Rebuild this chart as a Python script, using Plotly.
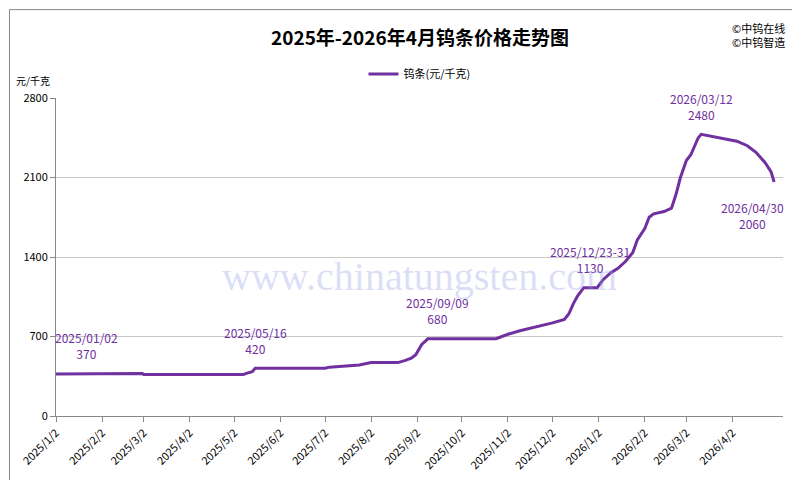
import plotly.graph_objects as go

dates = ["2025-01-02","2025-01-28","2025-01-29","2025-03-01","2025-03-02","2025-05-08","2025-05-10","2025-05-14","2025-05-16","2025-07-02",
 "2025-07-05","2025-07-15","2025-07-25","2025-08-02","2025-08-20","2025-08-25","2025-08-29","2025-09-01","2025-09-03","2025-09-05","2025-09-08","2025-09-09","2025-10-25",
 "2025-11-02","2025-11-10","2025-11-20","2025-12-02","2025-12-10","2025-12-13","2025-12-16","2025-12-19","2025-12-23","2026-01-01",
 "2026-01-05","2026-01-10","2026-01-15","2026-01-20","2026-01-25","2026-01-28","2026-02-02","2026-02-05","2026-02-08","2026-02-15","2026-02-20",
 "2026-02-23","2026-02-26","2026-03-02","2026-03-05","2026-03-10","2026-03-12","2026-03-20","2026-03-28","2026-04-05","2026-04-12","2026-04-18","2026-04-24","2026-04-28","2026-04-30"]
prices = [370,370,375,375,365,365,375,390,420,420,
 430,440,450,470,470,490,510,540,590,630,665,680,680,
 720,750,780,820,850,900,990,1060,1130,1130,
 1200,1260,1300,1360,1440,1550,1650,1750,1780,1800,1830,
 1950,2100,2250,2300,2450,2480,2460,2440,2420,2380,2320,2230,2150,2060]
tickvals = ["2025-01-02","2025-02-02","2025-03-02","2025-04-02","2025-05-02","2025-06-02","2025-07-02","2025-08-02","2025-09-02","2025-10-02","2025-11-02","2025-12-02","2026-01-02","2026-02-02","2026-03-02","2026-04-02"]
ticktext = ["2025/1/2","2025/2/2","2025/3/2","2025/4/2","2025/5/2","2025/6/2","2025/7/2","2025/8/2","2025/9/2","2025/10/2","2025/11/2","2025/12/2","2026/1/2","2026/2/2","2026/3/2","2026/4/2"]
notes = [("2025-01-02",370,"2025/01/02<br>370",30,28),("2025-05-16",420,"2025/05/16<br>420",0,28),
 ("2025-09-09",680,"2025/09/09<br>680",10,28),("2025-12-27",1130,"2025/12/23-31<br>1130",0,28),
 ("2026-03-12",2480,"2026/03/12<br>2480",0,28),("2026-04-30",2060,"2026/04/30<br>2060",-22,-33)]

purple = "#7030A0"
fig = go.Figure()
fig.add_trace(go.Scatter(x=dates, y=prices, mode="lines", name="钨条(元/千克)", line=dict(color=purple, width=3)))
for d, v, t, sx, sy in notes:
    fig.add_annotation(x=d, y=v, text=t, showarrow=False, xshift=sx, yshift=sy,
                       font=dict(color=purple, size=12))
fig.add_annotation(text="www.chinatungsten.com", x=0.5, y=0.44, xref="paper", yref="paper", showarrow=False,
                   font=dict(size=40, color="rgba(150,160,230,0.35)", family="Liberation Serif"))
fig.add_annotation(text="<b>2025年-2026年4月钨条价格走势图</b>", x=0.5, y=1.0, xref="paper", yref="paper", yanchor="bottom",
                   showarrow=False, yshift=46, font=dict(size=19, color="black"))
fig.add_annotation(text="©中钨在线<br>©中钨智造", x=1.0, y=1.0, xref="paper", yref="paper", xanchor="right", yanchor="bottom",
                   showarrow=False, align="left", yshift=46, xshift=4, font=dict(size=11, color="black"))
fig.add_annotation(text="元/千克", x=0, y=1.0, xref="paper", yref="paper", xanchor="right", yanchor="bottom",
                   showarrow=False, xshift=-4, yshift=8, font=dict(size=10, color="black"))
fig.update_layout(width=800, height=480, margin=dict(l=48, r=25, t=90, b=72), plot_bgcolor="white", paper_bgcolor="white",
    font=dict(family="Noto Sans CJK SC", color="black"), showlegend=True,
    legend=dict(x=0.5, xanchor="center", y=1.03, yanchor="bottom", orientation="h", font=dict(size=11)),
    shapes=[dict(type="rect", xref="paper", yref="paper", x0=-0.064, y0=-0.215, x1=1.022, y1=1.278, line=dict(color="#888", width=1))])
fig.update_xaxes(range=["2025-01-02","2026-05-06"], tickvals=tickvals, ticktext=ticktext, tickangle=-45, showgrid=False,
                 showline=True, linecolor="#888", ticks="outside", tickcolor="#888", tickfont=dict(size=11))
fig.update_yaxes(range=[0,2800], tickvals=[0,700,1400,2100,2800], showgrid=True, gridcolor="#c8c8c8", showline=True,
                 linecolor="#888", ticks="outside", tickcolor="#888", tickfont=dict(size=11), zeroline=False)
fig.write_html("out.html")
